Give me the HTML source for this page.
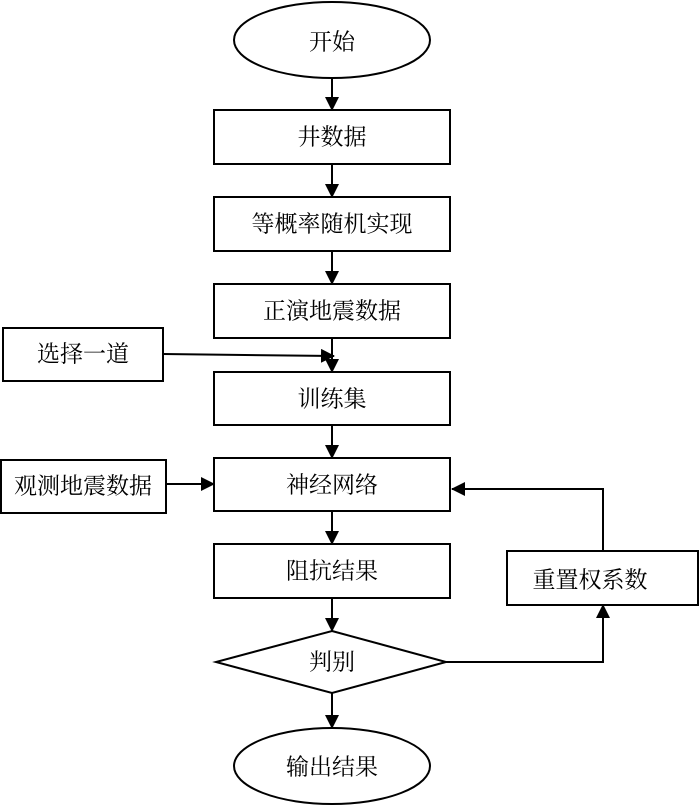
<!DOCTYPE html>
<html><head><meta charset="utf-8"><style>
body{margin:0;background:#fff}
text{font-family:"Liberation Serif","Noto Serif CJK SC",serif;font-size:23px;fill:#000;text-anchor:middle;dominant-baseline:central}
</style></head><body>
<svg width="700" height="806" viewBox="0 0 700 806" xmlns="http://www.w3.org/2000/svg">
<defs><marker id="a" markerWidth="10" markerHeight="10" refX="9" refY="5" orient="auto" markerUnits="userSpaceOnUse"><path d="M0,0 L10,5 L0,10z" fill="#000"/></marker>
<marker id="b" markerWidth="14" markerHeight="14" refX="13" refY="7" orient="auto" markerUnits="userSpaceOnUse"><path d="M0,0 L14,7 L0,14z" fill="#000"/></marker></defs>
<g fill="none" stroke="#000" stroke-width="2">
<ellipse cx="332" cy="40" rx="98" ry="38"/>
<rect x="214" y="110" width="236" height="54"/>
<rect x="214" y="197" width="236" height="54"/>
<rect x="214" y="284" width="236" height="54"/>
<rect x="214" y="372" width="236" height="53"/>
<rect x="214" y="458" width="236" height="53"/>
<rect x="214" y="544" width="236" height="54"/>
<rect x="3" y="328" width="160" height="53"/>
<rect x="1" y="460" width="165" height="53"/>
<rect x="507" y="551" width="191" height="54"/>
<polygon points="332,631 446,662 332,693 216,662"/>
<ellipse cx="332" cy="766" rx="98" ry="38"/>
<g marker-end="url(#b)">
<line x1="332" y1="78" x2="332" y2="110"/>
<line x1="332" y1="164" x2="332" y2="197"/>
<line x1="332" y1="251" x2="332" y2="284"/>
<line x1="332" y1="338" x2="332" y2="372"/>
<line x1="332" y1="425" x2="332" y2="458"/>
<line x1="332" y1="511" x2="332" y2="544"/>
<line x1="332" y1="598" x2="332" y2="631"/>
<line x1="332" y1="693" x2="332" y2="728"/>
<line x1="166" y1="484" x2="214" y2="484"/>
<polyline points="603,551 603,489 452,489"/>
<polyline points="446,662 603,662 603,605"/>
<line x1="163" y1="354" x2="334" y2="356"/>
</g>
</g>
<text x="332" y="42">开始</text>
<text x="332" y="137">井数据</text>
<text x="332" y="224">等概率随机实现</text>
<text x="332" y="311">正演地震数据</text>
<text x="83" y="354">选择一道</text>
<text x="332" y="399">训练集</text>
<text x="332" y="485">神经网络</text>
<text x="83" y="486">观测地震数据</text>
<text x="332" y="571">阻抗结果</text>
<text x="590" y="580">重置权系数</text>
<text x="332" y="662">判别</text>
<text x="332" y="767">输出结果</text>
</svg>
</body></html>
